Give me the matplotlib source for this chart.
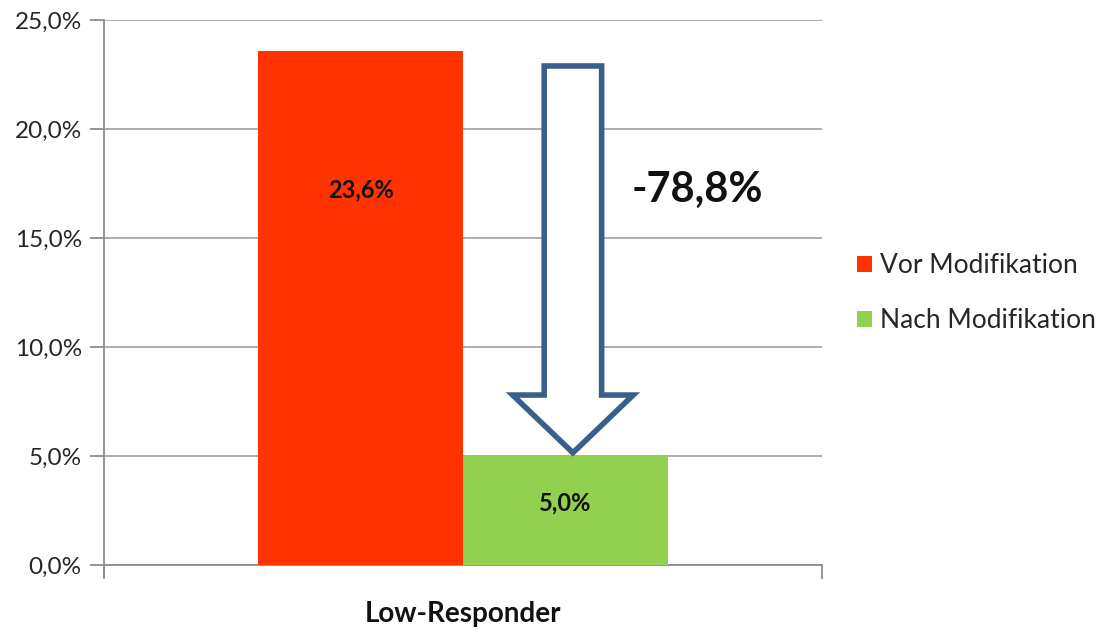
import matplotlib.pyplot as plt
from matplotlib.patches import Polygon
from matplotlib.ticker import FuncFormatter

category = 'Low-Responder'
series = ['Vor Modifikation', 'Nach Modifikation']
values = [23.6, 5.0]
colors = ['#FF3300', '#92D050']
change_label = '-78,8%'

plt.rcParams['font.family'] = ['Lato', 'DejaVu Sans']

fig = plt.figure(figsize=(11.07, 6.32), dpi=100)
ax = fig.add_axes([0.094, 0.106, 0.6486, 0.862])

width = 0.2855
xs = [-width / 2, width / 2]
for x, v, c, name in zip(xs, values, colors, series):
    ax.bar(x, v, width=width, color=c, label=name, zorder=3)

ax.set_xlim(-0.5, 0.5)
ax.set_ylim(0, 25)
ax.set_yticks([0, 5, 10, 15, 20, 25])
ax.yaxis.set_major_formatter(FuncFormatter(lambda v, p: f'{v:.1f}%'.replace('.', ',')))
ax.grid(axis='y', color='#A6A6A6', linewidth=1.3, zorder=0)
ax.set_xticks([-0.5, 0.5])
ax.set_xticklabels(['', ''])
ax.tick_params(axis='x', length=10, width=1.3, color='#8C8C8C')
ax.tick_params(axis='y', length=10, width=1.3, color='#8C8C8C', labelsize=17.5, labelcolor='#262626', pad=6)
ax.text(0.5, -0.09, category, transform=ax.transAxes, ha='center', va='center',
        fontsize=20, fontweight='bold', color='#111111')
for s in ['top', 'right']:
    ax.spines[s].set_visible(False)
for s in ['left', 'bottom']:
    ax.spines[s].set_color('#8C8C8C')
    ax.spines[s].set_linewidth(1.3)
ax.spines['left'].set_bounds(-0.5, 25)

# bar labels
ax.text(xs[0], 17.2, f'{values[0]:.1f}%'.replace('.', ','), ha='center', va='center',
        fontsize=17, fontweight='bold', color='#111111', zorder=4)
ax.text(xs[1], 2.85, f'{values[1]:.1f}%'.replace('.', ','), ha='center', va='center',
        fontsize=17, fontweight='bold', color='#111111', zorder=4)

# down arrow
cx = 0.153
sw = 0.04
hw = 0.084
top = values[0] - 0.7
tip = values[1] + 0.15
head = tip + 2.65
arrow = Polygon([(cx - sw, top), (cx + sw, top), (cx + sw, head), (cx + hw, head),
                 (cx, tip), (cx - hw, head), (cx - sw, head)], closed=True,
                facecolor='white', edgecolor='#3A5F8B', linewidth=4, zorder=5,
                joinstyle='miter')
ax.add_patch(arrow)
ax.text(0.327, 17.2, change_label, ha='center', va='center', fontsize=30,
        fontweight='bold', color='#111111', zorder=6)

fig.legend(loc='center left', bbox_to_anchor=(0.7525, 0.536), frameon=False,
           fontsize=19, handlelength=0.58, handleheight=0.58, handletextpad=0.3,
           labelspacing=1.15, labelcolor='#262626')

fig.savefig('out.png', dpi=100)
